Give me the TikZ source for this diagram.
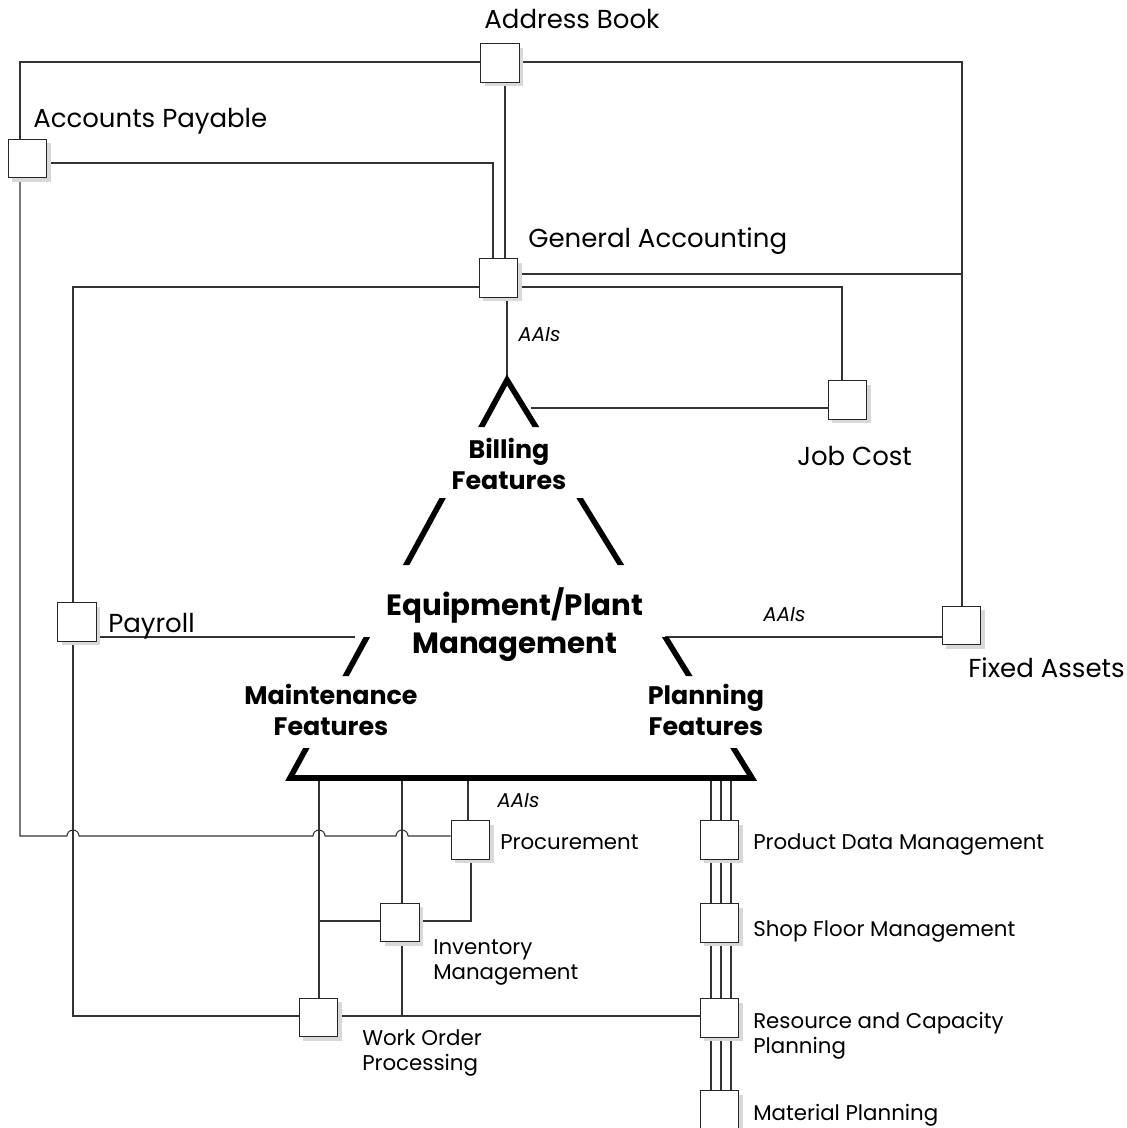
\documentclass[tikz,border=0pt]{standalone}
\usepackage{fontspec}
\setmainfont{Poppins}
\usetikzlibrary{calc,shadows,backgrounds}
\begin{document}
\begin{tikzpicture}[x=0.75pt,y=-0.75pt,
  box/.style={draw=black!85, fill=white, line width=0.75pt, minimum width=29pt, minimum height=29pt, inner sep=0pt,
              general shadow={fill=black!15, shadow xshift=3pt, shadow yshift=-3pt}},
  conn/.style={draw=black!80, line width=0.8pt},
  tri/.style={line width=4.2pt, line join=miter},
  big/.style={font=\fontsize{19.5}{24}\selectfont, inner sep=0pt},
  small/.style={font=\fontsize{16}{18.75}\selectfont, inner sep=0pt, align=left},
  aai/.style={font=\fontsize{15}{18}\selectfont\itshape, inner sep=0pt},
  boldlab/.style={font=\fontsize{19}{23.25}\selectfont\bfseries, inner sep=0pt, align=center},
  mainlab/.style={font=\fontsize{22}{28.5}\selectfont\bfseries, inner sep=0pt, align=center},
]
\useasboundingbox (0,0) rectangle (1127,1128);

% boxes
\node[box] (ab) at (500,63) {};
\node[box] (ap) at (27.5,158.5) {};
\node[box] (ga) at (498.5,278) {};
\node[box] (jc) at (847.5,400) {};
\node[box] (pay) at (77,622) {};
\node[box] (fa) at (961.5,625.5) {};
\node[box] (proc) at (470.5,840) {};
\node[box] (inv) at (400,922.5) {};
\node[box] (wop) at (318.5,1017.5) {};
\node[box] (pdm) at (719.5,840) {};
\node[box] (sfm) at (719.5,923) {};
\node[box] (rcp) at (719.5,1018) {};
\node[box] (mp) at (719.5,1110) {};

% triangle corners and attach points
\coordinate (A) at (507,380);
\coordinate (L) at (290,778);
\coordinate (R) at (752,778);
\coordinate (jcattach) at (531,408);
\coordinate (payend) at (355,637);
\coordinate (faattach) at (665,637);

\begin{pgfonlayer}{background}
  % connectors
  \draw[conn] (ab.west |- 0,62) -- (20,62) -- (ap.north -| 20,0);
  \draw[conn] (ap.south -| 20,0) -- (20,836) -- (67,836) arc(180:360:6) -- (313,836) arc(180:360:6)
              -- (396,836) arc(180:360:6) -- (proc.west |- 0,836);
  \draw[conn] (ap.east |- 0,163) -- (493,163) -- (ga.north -| 493,0);
  \draw[conn] (ab.south -| 505,0) -- (ga.north -| 505,0);
  \draw[conn] (ab.east |- 0,62) -- (962,62) -- (fa.north -| 962,0);
  \draw[conn] (ga.east |- 0,274) -- (962,274);
  \draw[conn] (ga.east |- 0,287) -- (842,287) -- (jc.north -| 842,0);
  \draw[conn] (ga.west |- 0,287) -- (73,287) -- (pay.north -| 73,0);
  \draw[conn] (ga.south -| 507,0) -- (A);
  \draw[conn] (jcattach) -- (jc.west |- 0,408);
  \draw[conn] (pay.east |- 0,637) -- (payend);
  \draw[conn] (faattach) -- (fa.west |- 0,637);
  \draw[conn] (pay.south -| 73,0) -- (73,1016) -- (wop.west |- 0,1016);
  \draw[conn] (319,778) -- (wop.north -| 319,0);
  \draw[conn] (319,921) -- (inv.west |- 0,921);
  \draw[conn] (402,778) -- (inv.north -| 402,0);
  \draw[conn] (inv.south -| 402,0) -- (402,1016);
  \draw[conn] (wop.east |- 0,1016) -- (rcp.west |- 0,1016);
  \draw[conn] (468,778) -- (proc.north -| 468,0);
  \draw[conn] (proc.south -| 471,0) -- (471,921) -- (inv.east |- 0,921);
  \foreach \xx in {711,721,731} {
    \draw[conn] (\xx,778) -- (pdm.north -| \xx,0);
    \draw[conn] (pdm.south -| \xx,0) -- (sfm.north -| \xx,0);
    \draw[conn] (sfm.south -| \xx,0) -- (rcp.north -| \xx,0);
    \draw[conn] (rcp.south -| \xx,0) -- (mp.north -| \xx,0);
  }
  % triangle
  \begin{scope}
    \clip (0,360) rectangle (1127,427) (0,498) rectangle (1127,565)
          (0,637) rectangle (1127,676) (0,748) rectangle (1127,800);
    \draw[tri] (A) -- (R) -- (L) -- cycle;
  \end{scope}
\end{pgfonlayer}

% labels
\node[big, anchor=base] (tab) at (572,28) {Address Book};
\node[big, anchor=base west] (tap) at (33,127) {Accounts Payable};
\node[big, anchor=base west] (tga) at (528,247) {General Accounting};
\node[big, anchor=base west] (tjc) at (797,465) {Job Cost};
\node[big, anchor=base west] (tpay) at (108,632) {Payroll};
\node[big, anchor=base west] (tfa) at (968,677) {Fixed Assets};

\node[aai, anchor=base west] (aai1) at (518,341) {AAIs};
\node[aai, anchor=base west] (aai2) at (763,621) {AAIs};
\node[aai, anchor=base west] (aai3) at (497,807) {AAIs};

\node[small, anchor=base west] (tproc) at (500,849) {Procurement};
\node[small, anchor=base west] (tinv) at (433,979) {Inventory\\Management};
\node[small, anchor=base west] (twop) at (362,1070) {Work Order\\Processing};
\node[small, anchor=base west] (tpdm) at (753,849) {Product Data Management};
\node[small, anchor=base west] (tsfm) at (753,936) {Shop Floor Management};
\node[small, anchor=base west] (trcp) at (753,1053) {Resource and Capacity\\Planning};
\node[small, anchor=base west] (tmp) at (753,1120) {Material Planning};

\node[boldlab, anchor=base] (tbill) at (509,489) {Billing\\Features};
\node[mainlab, anchor=base] (tepm) at (515,653) {Equipment/Plant\\Management};
\node[boldlab, anchor=base] (tmaint) at (331,735) {Maintenance\\Features};
\node[boldlab, anchor=base] (tplan) at (706,735) {Planning\\Features};
\end{tikzpicture}
\end{document}
